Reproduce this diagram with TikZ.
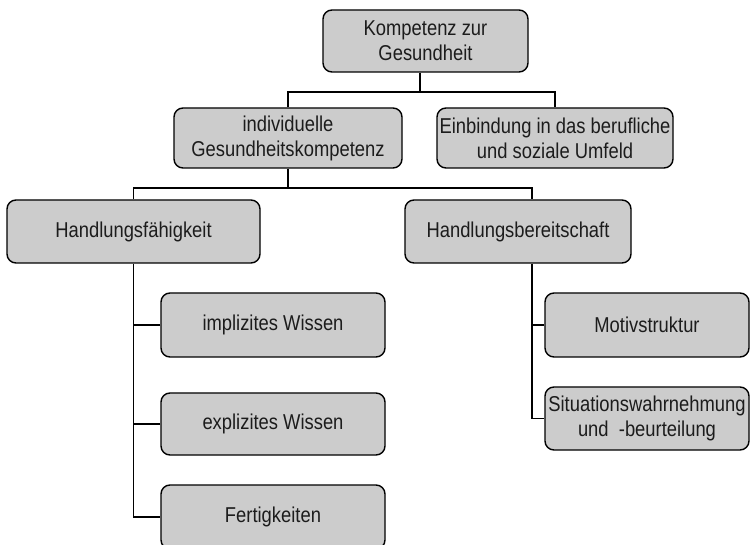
\documentclass[tikz,border=0pt]{standalone}
\usepackage{fontspec}
\setmainfont{Liberation Sans}[FakeStretch=0.855]
\definecolor{boxfill}{HTML}{CCCCCC}
\definecolor{ink}{HTML}{1C1C1C}
\tikzset{
  box/.style={draw=black, fill=boxfill, rounded corners=9pt, line width=1.4pt,
    align=center, text=ink, inner sep=0pt,
    font=\fontsize{21.5}{25}\selectfont},
  link/.style={draw=black, line width=1.4pt}
}
\begin{document}
\begin{tikzpicture}[x=1pt,y=-1pt]
\clip (0,0) rectangle (750,545);

% top level
\node[box, minimum width=205, minimum height=62] (top) at (425.5,41) {Kompetenz zur\\ Gesundheit};

% second level
\node[box, minimum width=228, minimum height=60] (indiv) at (288,138) {individuelle\\Gesundheitskompetenz};
\node[box, minimum width=236, minimum height=60] (einb) at (555,138) {Einbindung in das berufliche\\und soziale Umfeld};

% third level
\node[box, minimum width=253, minimum height=63] (hf) at (133.5,231.5) {Handlungsfähigkeit};
\node[box, minimum width=226, minimum height=63] (hb) at (518,231.5) {Handlungsbereitschaft};

% components of Handlungsfähigkeit
\node[box, minimum width=224, minimum height=64] (impl) at (273,325) {implizites Wissen};
\node[box, minimum width=224, minimum height=62] (expl) at (273,424) {explizites Wissen};
\node[box, minimum width=224, minimum height=64] (fert) at (273,517) {Fertigkeiten};

% components of Handlungsbereitschaft
\node[box, minimum width=204, minimum height=64] (motiv) at (647,325) {Motivstruktur};
\node[box, minimum width=204, minimum height=63] (sit) at (647,418.5) {Situationswahrnehmung\\und \ -beurteilung};

% bus junctions and trunk ends
\coordinate (j1) at (420,92);
\coordinate (j2) at (288,188);
\coordinate (topout) at ([xshift=-5.5pt]top.south);
\coordinate (hbin) at ([xshift=14pt]hb.north);
\coordinate (hbout) at ([xshift=14pt]hb.south);

% connectors
\draw[link] (topout) -- (j1);
\draw[link] (indiv.north) |- (j1) -| (einb.north);
\draw[link] (indiv.south) -- (j2);
\draw[link] (hf.north) |- (j2) -| (hbin);

\draw[link] (hf.south) |- (fert.west);
\draw[link] (impl.west) -- (impl.west -| hf.south);
\draw[link] (expl.west) -- (expl.west -| hf.south);

\draw[link] (hbout) |- (sit.west);
\draw[link] (motiv.west) -- (motiv.west -| hbout);
\end{tikzpicture}
\end{document}
